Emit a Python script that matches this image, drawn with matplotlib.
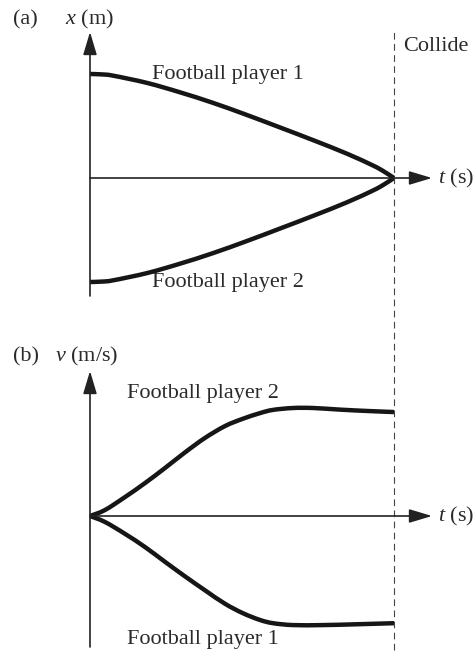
import matplotlib
matplotlib.use("Agg")
import matplotlib.pyplot as plt
from matplotlib.path import Path
from matplotlib.patches import PathPatch

plt.rcParams["font.family"] = ["Liberation Serif", "DejaVu Serif"]
plt.rcParams["mathtext.fontset"] = "custom"
plt.rcParams["mathtext.it"] = "Liberation Serif:italic"
plt.rcParams["mathtext.rm"] = "Liberation Serif"

# (a) position vs. time, t in s, x in m
t_pos = [0.0, 0.4, 0.76, 1.88, 2.96, 4.05, 5.16, 6.25, 7.34, 8.45, 9.31, 9.65, 10.0]
x_player1 = [5.0, 4.98, 4.92, 4.57, 4.12, 3.61, 3.03, 2.43, 1.82, 1.17, 0.60, 0.33, 0.0]
x_player2 = [-5.0, -4.98, -4.92, -4.57, -4.12, -3.61, -3.03, -2.43, -1.82, -1.17, -0.60, -0.33, 0.0]

# (b) velocity vs. time, v in m/s
t_v2 = [0.0, 0.49, 1.15, 1.81, 2.47, 3.13, 3.78, 4.44, 5.0, 5.59, 6.02, 6.68, 7.34, 8.22, 9.11, 10.0]
v_player2 = [0.0, 0.22, 0.70, 1.22, 1.78, 2.36, 2.89, 3.33, 3.59, 3.81, 3.93, 4.0, 4.0, 3.94, 3.89, 3.85]
t_v1 = [0.0, 0.49, 1.15, 1.81, 2.47, 3.13, 3.78, 4.44, 5.03, 5.59, 6.02, 6.68, 7.66, 8.77, 10.0]
v_player1 = [0.0, -0.22, -0.66, -1.15, -1.70, -2.24, -2.75, -3.25, -3.60, -3.85, -3.97, -4.04, -4.04, -4.01, -3.97]

t_collide = 10.0

W, H = 475, 656
fig = plt.figure(figsize=(W / 100, H / 100), dpi=100)
fig.patch.set_facecolor("white")

CURVE = "#161616"
AXIS = "#222222"
TEXT = "#2a2a2a"
FS = 16


def smooth_curve(ax, xs, ys):
    """Draw a curve through every (x, y) using Catmull-Rom Bezier segments."""
    pts = list(zip(xs, ys))
    verts = [pts[0]]
    codes = [Path.MOVETO]
    n = len(pts)
    for i in range(n - 1):
        p0 = pts[i - 1] if i > 0 else pts[i]
        p1, p2 = pts[i], pts[i + 1]
        p3 = pts[i + 2] if i + 2 < n else pts[i + 1]
        c1 = (p1[0] + (p2[0] - p0[0]) / 6, p1[1] + (p2[1] - p0[1]) / 6)
        c2 = (p2[0] - (p3[0] - p1[0]) / 6, p2[1] - (p3[1] - p1[1]) / 6)
        verts += [c1, c2, p2]
        codes += [Path.CURVE4] * 3
    ax.add_patch(PathPatch(Path(verts, codes), fill=False, edgecolor=CURVE,
                           lw=3.2, capstyle="butt", joinstyle="round"))


# px per unit: t -> 30.4 px/s ; x -> 20.8 px/m ; v -> 27 px/(m/s)
t_lo, t_hi = -90 / 30.4, (W - 90) / 30.4
axA = fig.add_axes([0, 1 - 328 / H, 1, 328 / H])
axA.set_xlim(t_lo, t_hi)
axA.set_ylim((178 - 328) / 20.8, 178 / 20.8)
axB = fig.add_axes([0, 0, 1, 328 / H])
axB.set_xlim(t_lo, t_hi)
axB.set_ylim((516 - 656) / 27, (516 - 328) / 27)
for ax in (axA, axB):
    ax.axis("off")

t_tip = (432 - 90) / 30.4
arrow = dict(arrowstyle="-|>,head_length=1.0,head_width=0.3", lw=1.2,
             color=AXIS, shrinkA=0, shrinkB=0, mutation_scale=14)


def draw_axes(ax, y_bottom, y_top, dash_bottom, dash_top):
    ax.annotate("", xy=(0, y_top), xytext=(0, y_bottom), arrowprops=arrow)
    ax.annotate("", xy=(t_tip, 0), xytext=(0, 0), arrowprops=arrow)
    ax.plot([t_collide, t_collide], [dash_bottom, dash_top], color="#444444",
            lw=0.8, dashes=(6, 4), clip_on=False)
    ax.text(t_tip + 6 / 30.4, 0, r"$t$ (s)", fontsize=FS, color=TEXT,
            va="center", ha="left")


# panel (a)
yA_top, yA_bot = 146 / 20.8, -118 / 20.8
draw_axes(axA, yA_bot, yA_top, axA.get_ylim()[0], yA_top)
smooth_curve(axA, t_pos, x_player1)
smooth_curve(axA, t_pos, x_player2)
axA.text(2.05, 5.0, "Football player 1", fontsize=FS, color=TEXT, va="center")
axA.text(2.05, -5.0, "Football player 2", fontsize=FS, color=TEXT, va="center")
axA.text(10.3, 6.3, "Collide", fontsize=FS, color=TEXT, va="center")
axA.text(-2.53, 7.6, "(a)", fontsize=FS, color=TEXT, va="center")
axA.text(-0.83, 7.6, r"$x$ (m)", fontsize=FS, color=TEXT, va="center")

# panel (b)
yB_top, yB_bot = 145 / 27, -131 / 27
draw_axes(axB, yB_bot, yB_top, -134 / 27, axB.get_ylim()[1])
smooth_curve(axB, t_v2, v_player2)
smooth_curve(axB, t_v1, v_player1)
axB.text(1.22, 4.55, "Football player 2", fontsize=FS, color=TEXT, va="center")
axB.text(1.22, -4.59, "Football player 1", fontsize=FS, color=TEXT, va="center")
axB.text(-2.53, 5.9, "(b)", fontsize=FS, color=TEXT, va="center")
axB.text(-1.15, 5.9, r"$v$ (m/s)", fontsize=FS, color=TEXT, va="center")

fig.savefig("out.png", dpi=100, facecolor="white")
